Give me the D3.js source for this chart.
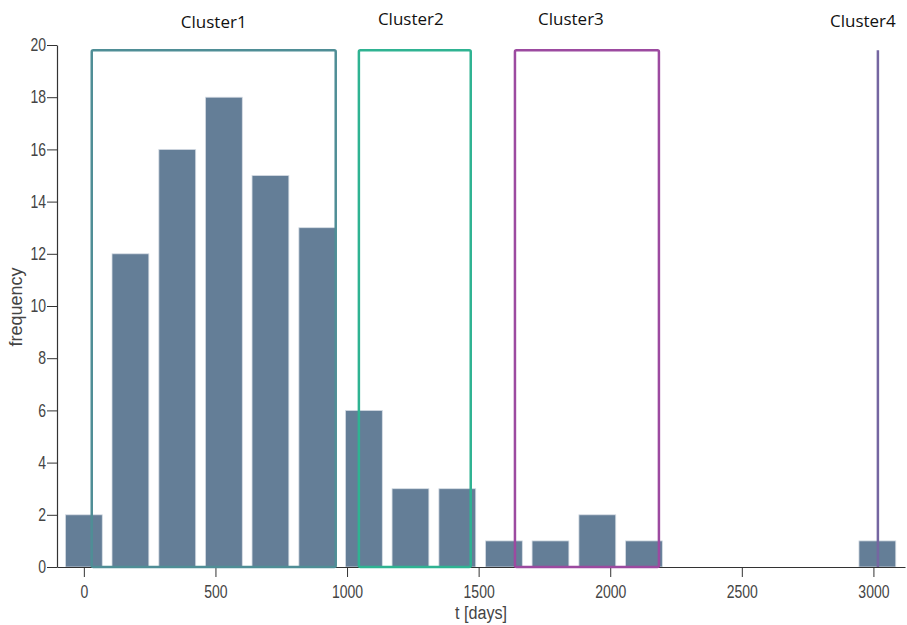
<!DOCTYPE html>
<html>
<head>
<meta charset="utf-8">
<script src="https://cdn.jsdelivr.net/npm/d3@7"></script>
<style>
  body { margin: 0; background: #fff; }
  .axis text { font-family: "Liberation Sans", Arial, sans-serif; font-size: 17.5px; fill: #444; }
  .axis path, .axis line { stroke: #333; }
</style>
</head>
<body>
<script>
// bin centres (days) and counts of the histogram
const binCenters = [0, 177, 355, 532, 709, 887, 1064, 1241, 1419, 1596, 1773, 1951, 2128, 2305, 2483, 2660, 2837, 3015];
const counts     = [2, 12, 16, 18, 15, 13, 6, 3, 3, 1, 1, 2, 1, 0, 0, 0, 0, 1];
const xTicks = [0, 500, 1000, 1500, 2000, 2500, 3000];
const yTicks = [0, 2, 4, 6, 8, 10, 12, 14, 16, 18, 20];

// cluster brackets (in days), cluster 4 is a single line
const clusterNames = ['Cluster1', 'Cluster2', 'Cluster3', 'Cluster4'];
const clusterStart = [30, 1045, 1638, 3017];
const clusterEnd   = [957, 1470, 2185, 3017];
const clusterTop = 19.8;
const clusterColors = ['#4f8e96', '#2fb392', '#9c4aa0', '#7566a1'];

const w = 907, h = 625;
const svg = d3.select('body').append('svg').attr('width', w).attr('height', h);

const x = d3.scaleLinear().domain([-102, 3120]).range([57, 905]);
const y = d3.scaleLinear().domain([0, 20]).range([567, 45]);
const binW = 140;

svg.selectAll('rect.bar').data(counts.map((c, i) => [binCenters[i], c]).filter(d => d[1] > 0))
  .enter().append('rect').attr('class', 'bar')
  .attr('x', d => x(d[0] - binW / 2))
  .attr('width', d => x(d[0] + binW / 2) - x(d[0] - binW / 2))
  .attr('y', d => y(d[1]))
  .attr('height', d => y(0) - y(d[1]))
  .attr('fill', '#647e97')
  .attr('stroke', '#d6dde4').attr('stroke-width', 0.8);

// narrow look for tick labels (reference uses a condensed face)
const squeeze = 0.8;

const gx = svg.append('g').attr('class', 'axis')
  .attr('transform', 'translate(0,' + y(0) + ')')
  .call(d3.axisBottom(x).tickValues(xTicks).tickSize(10).tickSizeOuter(0).tickPadding(9).tickFormat(d3.format('d')));
gx.selectAll('text').attr('transform', 'scale(' + squeeze + ',1)');

const gy = svg.append('g').attr('class', 'axis')
  .attr('transform', 'translate(' + x(-102) + ',0)')
  .call(d3.axisLeft(y).tickValues(yTicks).tickSize(10).tickSizeOuter(0).tickPadding(1));
gy.selectAll('text').attr('x', -11 / squeeze).attr('transform', 'scale(' + squeeze + ',1)');

svg.selectAll('.axis .domain').attr('stroke-width', 1.2);

// cluster boxes
const labelDx = [0, -4, -16, -15];
const labelY = [28, 25, 25, 27];
clusterNames.forEach((name, i) => {
  const x0 = x(clusterStart[i]), x1 = x(clusterEnd[i]);
  if (x1 - x0 < 1) {
    svg.append('line').attr('x1', x0).attr('x2', x0).attr('y1', y(clusterTop)).attr('y2', y(0))
      .attr('stroke', clusterColors[i]).attr('stroke-width', 2.5);
  } else {
    svg.append('rect').attr('x', x0).attr('y', y(clusterTop))
      .attr('width', x1 - x0).attr('height', y(0) - y(clusterTop))
      .attr('fill', 'none').attr('stroke', clusterColors[i]).attr('stroke-width', 2.5).attr('rx', 1.5);
  }
  svg.append('text').attr('x', (x0 + x1) / 2 + labelDx[i]).attr('y', labelY[i])
    .attr('text-anchor', 'middle')
    .style('font-family', '"Open Sans", sans-serif').style('font-size', '17px').style('fill', '#111')
    .text(name);
});

svg.append('text')
  .attr('transform', 'rotate(-90)')
  .attr('x', -307).attr('y', 22)
  .attr('text-anchor', 'middle')
  .style('font-family', '"Liberation Sans", sans-serif').style('font-size', '18px').style('fill', '#444')
  .text('frequency');

svg.append('text')
  .attr('x', 481).attr('y', 619)
  .attr('text-anchor', 'middle')
  .attr('transform', 'translate(' + (481 * (1 - 0.85)) + ',0) scale(0.85,1)')
  .style('font-family', '"Liberation Sans", sans-serif').style('font-size', '19px').style('fill', '#444')
  .text('t [days]');
</script>
</body>
</html>
